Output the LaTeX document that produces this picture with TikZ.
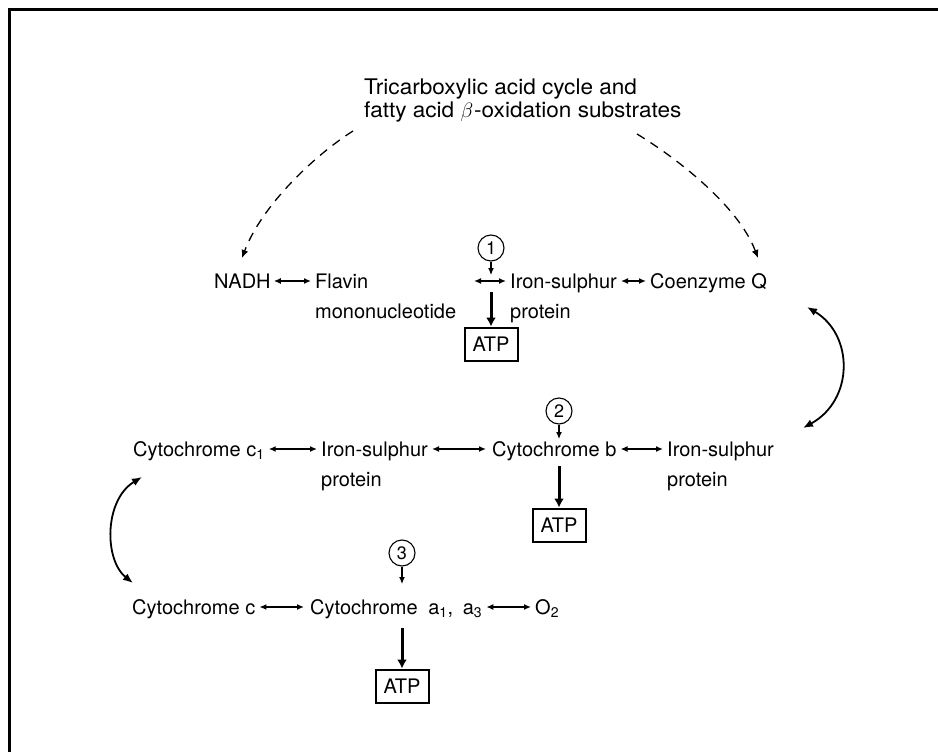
\documentclass[tikz,border=0pt]{standalone}
\usepackage{fontspec}
\setmainfont{TeX Gyre Heros}
\newfontfamily\titlefont{TeX Gyre Heros}[FakeStretch=1.05]
\usetikzlibrary{arrows.meta}
\begin{document}
\begin{tikzpicture}[x=1pt,y=-1pt,
  txt/.style={font=\fontsize{20}{30}\selectfont, inner sep=0pt, align=left},
  dbl/.style={{Latex[length=7pt,width=6pt]}-{Latex[length=7pt,width=6pt]}, line width=1.3pt},
  num/.style={draw, circle, line width=1.1pt, minimum size=26pt, inner sep=0pt, font=\fontsize{18}{18}\selectfont},
  small/.style={-{Latex[length=7pt,width=6pt]}, line width=1.1pt},
  thk/.style={-{Latex[length=9pt,width=10pt]}, line width=3pt},
  atpbox/.style={draw, line width=2pt, minimum width=53pt, minimum height=33pt, inner sep=0pt, font=\fontsize{20}{20}\selectfont},
  dashline/.style={dash pattern=on 9pt off 7pt, line width=1.3pt, -{Latex[length=8pt,width=7pt]}},
  curv/.style={{Latex[length=10pt,width=8pt]}-{Latex[length=10pt,width=8pt]}, line width=1.8pt}]
\useasboundingbox (0,0) rectangle (938,752);
% frame
\draw[line width=3pt] (9,752) -- (9,10) -- (938,10);
% title
\node[font=\titlefont\fontsize{21.5}{23}\selectfont, inner sep=0pt, align=left, anchor=north west] (title) at (364,79) {Tricarboxylic acid cycle and\\fatty acid $\beta$\kern1pt-oxidation substrates};
\coordinate (dl) at (353,131);
\coordinate (dr) at (637,134);
\coordinate (dlend) at (242,258);
\coordinate (drend) at (758,258);
% row centres
\coordinate (r1) at (0,281);
\coordinate (r2) at (0,449);
\coordinate (r3) at (0,607);
% row 1
\node[txt, anchor=base west] (nadh) at (214,288.5) {NADH};
\node[txt, anchor=north west] (flavin) at (315,274) {Flavin\\mononucleotide};
\node[num] (n1) at (491,248) {1};
\coordinate (l1) at (474,281);
\node[txt, anchor=north west] (iron1) at (510,274) {Iron-sulphur\\protein};
\node[txt, anchor=base west] (coq) at (650,288.5) {Coenzyme Q};
\node[atpbox] (atp1) at (491,344) {ATP};
\coordinate (n1e) at (491,275);
\coordinate (t1s) at (491,292);
\draw[dbl] ([xshift=3pt]nadh.east |- r1) -- ([xshift=-4pt]flavin.west |- r1);
\draw[dbl] (l1) -- ([xshift=-4pt]iron1.west |- r1);
\draw[dbl] ([xshift=4pt]iron1.west |- r1) ++(107,0) -- ([xshift=-4pt]coq.west |- r1);
\draw[small] (n1.south) -- (n1e);
\draw[thk] (t1s) -- (atp1.north);
\draw[dashline] (dl) .. controls (315,155) and (262,205) .. (dlend);
\draw[dashline] (dr) .. controls (675,157) and (738,205) .. (drend);
% row 2
\node[txt, anchor=base west] (cytc1) at (133,456.5) {Cytochrome c\textsubscript{1}};
\node[txt, anchor=north west] (iron2) at (321,442) {Iron-sulphur\\protein};
\node[txt, anchor=base west] (cytb) at (492,456.5) {Cytochrome b};
\node[txt, anchor=north west] (iron3) at (667,442) {Iron-sulphur\\protein};
\node[num] (n2) at (559,411) {2};
\node[atpbox] (atp2) at (559,525) {ATP};
\coordinate (n2e) at (559,439);
\coordinate (t2s) at (559,466);
\draw[dbl] ([xshift=4pt]cytc1.east |- r2) -- ([xshift=-4pt]iron2.west |- r2);
\draw[dbl] ([xshift=111pt]iron2.west |- r2) -- ([xshift=-6pt]cytb.west |- r2);
\draw[dbl] ([xshift=4pt]cytb.east |- r2) -- ([xshift=-4pt]iron3.west |- r2);
\draw[small] (n2.south) -- (n2e);
\draw[thk] (t2s) -- (atp2.north);
% row 3
\node[txt, anchor=base west] (cytc) at (132,614.5) {Cytochrome c};
\node[txt, anchor=base west] (cyta) at (310,614.5) {Cytochrome\hspace{0.25em} a\textsubscript{1},\hspace{0.2em} a\textsubscript{3}};
\node[txt, anchor=base west] (o2) at (535,614.5) {O\textsubscript{2}};
\node[num] (n3) at (402,553) {3};
\node[atpbox] (atp3) at (402,686) {ATP};
\coordinate (n3e) at (402,584);
\coordinate (t3s) at (402,628);
\draw[dbl] ([xshift=4pt]cytc.east |- r3) -- ([xshift=-6pt]cyta.west |- r3);
\draw[dbl] ([xshift=4pt]cyta.east |- r3) -- ([xshift=-4pt]o2.west |- r3);
\draw[small] (n3.south) -- (n3e);
\draw[thk] (t3s) -- (atp3.north);
% curved arrows
\coordinate (ra) at (807,307);
\coordinate (rb) at (803,428);
\draw[curv] (ra) .. controls (854,335) and (854,400) .. (rb);
\coordinate (la) at (142,477);
\coordinate (lb) at (133,583);
\draw[curv] (la) .. controls (104,500) and (104,560) .. (lb);
\end{tikzpicture}
\end{document}
